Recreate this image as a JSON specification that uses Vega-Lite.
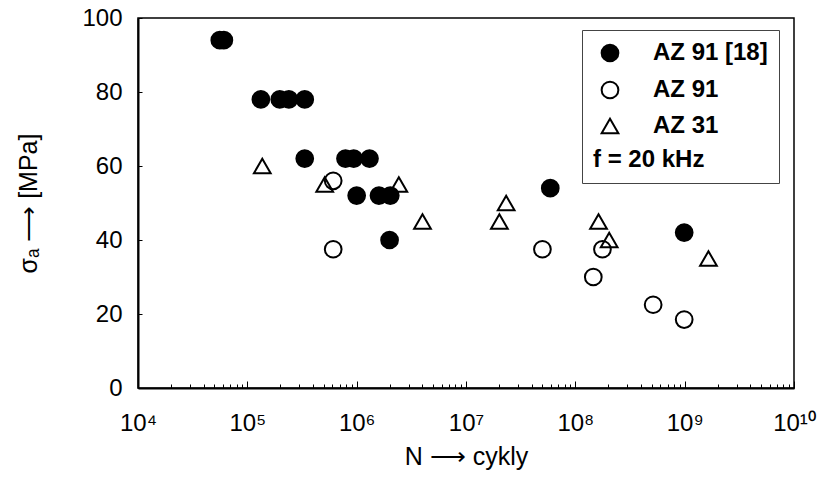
{
  "$schema": "https://vega.github.io/schema/vega-lite/v6.json",
  "width": 656,
  "height": 370,
  "autosize": "none",
  "padding": {"left": 138, "top": 18, "right": 32, "bottom": 106},
  "background": "white",
  "config": {
    "view": {"stroke": "black", "strokeWidth": 1.5},
    "font": "Liberation Sans",
    "axis": {"grid": false, "domainColor": "black", "domainWidth": 2, "tickColor": "black", "tickWidth": 1, "labelColor": "black", "titleColor": "black", "titleFontWeight": "normal"},
    "legend": {
      "orient": "none", "legendX": 444, "legendY": 12,
      "titleOrient": "bottom", "titleAnchor": "start",
      "titleFontSize": 24, "titleFontWeight": "bold", "titleColor": "black", "titlePadding": 10,
      "labelFontSize": 24, "labelFontWeight": "bold", "labelColor": "black", "labelOffset": 31, "labelLimit": 300,
      "symbolSize": 280, "symbolStrokeColor": "black", "symbolStrokeWidth": 2, "symbolOffset": 5,
      "strokeColor": "#444", "fillColor": "white", "padding": 11, "rowPadding": 11
    }
  },
  "data": {
    "values": [
      {"series": "AZ 91 [18]", "N": 56000, "sigma": 94},
      {"series": "AZ 91 [18]", "N": 61000, "sigma": 94},
      {"series": "AZ 91 [18]", "N": 133000, "sigma": 78},
      {"series": "AZ 91 [18]", "N": 198000, "sigma": 78},
      {"series": "AZ 91 [18]", "N": 240000, "sigma": 78},
      {"series": "AZ 91 [18]", "N": 335000, "sigma": 78},
      {"series": "AZ 91 [18]", "N": 335000, "sigma": 62},
      {"series": "AZ 91 [18]", "N": 790000, "sigma": 62},
      {"series": "AZ 91 [18]", "N": 940000, "sigma": 62},
      {"series": "AZ 91 [18]", "N": 1310000, "sigma": 62},
      {"series": "AZ 91 [18]", "N": 1000000, "sigma": 52},
      {"series": "AZ 91 [18]", "N": 1600000, "sigma": 52},
      {"series": "AZ 91 [18]", "N": 2030000, "sigma": 52},
      {"series": "AZ 91 [18]", "N": 2000000, "sigma": 40},
      {"series": "AZ 91 [18]", "N": 59000000, "sigma": 54},
      {"series": "AZ 91 [18]", "N": 990000000, "sigma": 42},
      {"series": "AZ 91", "N": 610000, "sigma": 56},
      {"series": "AZ 91", "N": 610000, "sigma": 37.5},
      {"series": "AZ 91", "N": 50000000, "sigma": 37.5},
      {"series": "AZ 91", "N": 177000000, "sigma": 37.5},
      {"series": "AZ 91", "N": 146000000, "sigma": 30},
      {"series": "AZ 91", "N": 515000000, "sigma": 22.5},
      {"series": "AZ 91", "N": 990000000, "sigma": 18.5},
      {"series": "AZ 31", "N": 137000, "sigma": 60},
      {"series": "AZ 31", "N": 510000, "sigma": 55},
      {"series": "AZ 31", "N": 2430000, "sigma": 55},
      {"series": "AZ 31", "N": 4000000, "sigma": 45},
      {"series": "AZ 31", "N": 20200000, "sigma": 45},
      {"series": "AZ 31", "N": 23300000, "sigma": 50},
      {"series": "AZ 31", "N": 163000000, "sigma": 45},
      {"series": "AZ 31", "N": 204000000, "sigma": 40},
      {"series": "AZ 31", "N": 1650000000, "sigma": 35}
    ]
  },
  "mark": {"type": "point", "strokeWidth": 2, "size": 280, "opacity": 1},
  "encoding": {
    "x": {
      "field": "N",
      "type": "quantitative",
      "scale": {"type": "log", "domain": [10000, 10000000000], "nice": false},
      "axis": {
        "values": [10000, 20000, 30000, 40000, 50000, 60000, 70000, 80000, 90000,
                   100000, 200000, 300000, 400000, 500000, 600000, 700000, 800000, 900000,
                   1000000, 2000000, 3000000, 4000000, 5000000, 6000000, 7000000, 8000000, 9000000,
                   10000000, 20000000, 30000000, 40000000, 50000000, 60000000, 70000000, 80000000, 90000000,
                   100000000, 200000000, 300000000, 400000000, 500000000, 600000000, 700000000, 800000000, 900000000,
                   1000000000, 2000000000, 3000000000, 4000000000, 5000000000, 6000000000, 7000000000, 8000000000, 9000000000,
                   10000000000],
        "labelExpr": "abs(log(datum.value)/LN10 - round(log(datum.value)/LN10)) < 0.001 ? (round(log(datum.value)/LN10) >= 10 ? '10¹⁰' : '10' + substring('⁰¹²³⁴⁵⁶⁷⁸⁹', round(log(datum.value)/LN10), round(log(datum.value)/LN10) + 1)) : ''",
        "tickSize": {"condition": {"test": "abs(log(datum.value)/LN10 - round(log(datum.value)/LN10)) < 0.001", "value": -7}, "value": -4},
        "labelFontSize": 24,
        "labelPadding": 30,
        "labelFlush": false,
        "labelOverlap": false,
        "title": "N ⟶ cykly",
        "titleFontSize": 25,
        "titlePadding": 6
      }
    },
    "y": {
      "field": "sigma",
      "type": "quantitative",
      "scale": {"domain": [0, 100], "nice": false},
      "axis": {
        "values": [0, 20, 40, 60, 80, 100],
        "tickSize": -4,
        "labelFontSize": 24,
        "labelPadding": 20,
        "title": "σₐ ⟶ [MPa]",
        "titleFontSize": 25,
        "titlePadding": 40
      }
    },
    "shape": {
      "field": "series",
      "type": "nominal",
      "scale": {"domain": ["AZ 91 [18]", "AZ 91", "AZ 31"], "range": ["circle", "circle", "triangle-up"]},
      "legend": {"title": "f = 20 kHz", "encode": {"symbols": {"update": {"strokeWidth": {"value": 2}}}}}
    },
    "fill": {
      "field": "series",
      "type": "nominal",
      "scale": {"domain": ["AZ 91 [18]", "AZ 91", "AZ 31"], "range": ["black", "transparent", "transparent"]},
      "legend": {"title": "f = 20 kHz", "encode": {"symbols": {"update": {"strokeWidth": {"value": 2}}}}}
    },
    "stroke": {
      "field": "series",
      "type": "nominal",
      "scale": {"domain": ["AZ 91 [18]", "AZ 91", "AZ 31"], "range": ["black", "black", "black"]},
      "legend": {"title": "f = 20 kHz", "encode": {"symbols": {"update": {"strokeWidth": {"value": 2}}}}}
    }
  }
}
